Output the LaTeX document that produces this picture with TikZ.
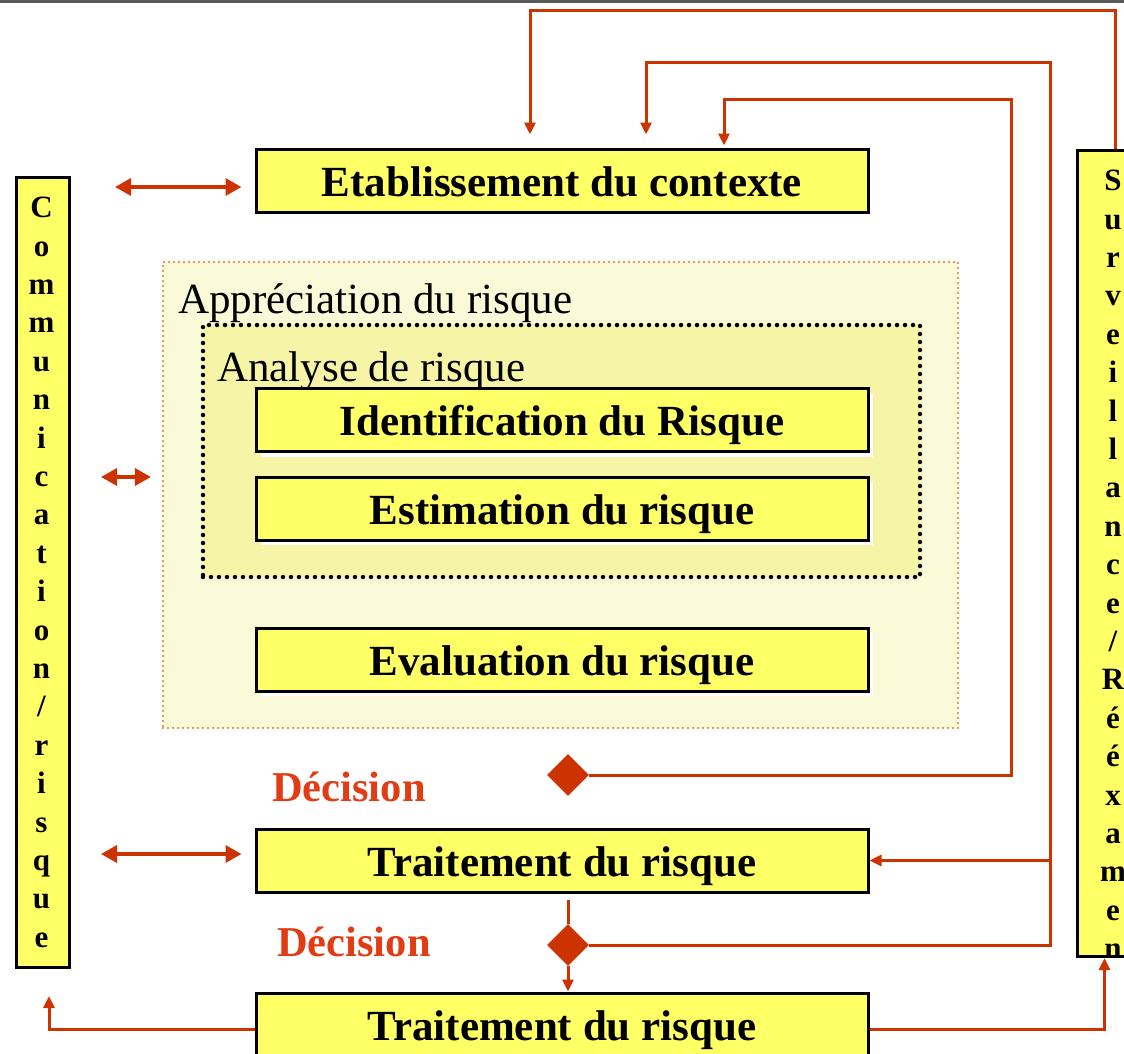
\documentclass[tikz,border=0pt]{standalone}
\usepackage{fontspec}
\setmainfont{Liberation Serif}
\usetikzlibrary{arrows.meta,shapes.geometric,shadows}
\definecolor{boxyellow}{HTML}{FFFF66}
\definecolor{apprfill}{HTML}{FAFAD8}
\definecolor{anafill}{HTML}{F6F4A6}
\definecolor{linkred}{HTML}{CC3300}
\definecolor{decred}{HTML}{E23C14}
\definecolor{dotorange}{HTML}{E07A1E}
\begin{document}
\begin{tikzpicture}[x=1pt,y=-1pt,
    stepbox/.style={draw,line width=3pt,fill=boxyellow,minimum width=612pt,minimum height=63pt,inner sep=0pt,
        text height=31pt,text depth=0pt,font=\fontsize{43}{47}\selectfont\bfseries,
        drop shadow={fill=white,opacity=1,shadow xshift=5pt,shadow yshift=-5pt}},
    sidebox/.style={draw,line width=3pt,fill=boxyellow,inner sep=0pt,anchor=north west},
    letters/.style={align=center,inner sep=0pt,anchor=north,font=\fontsize{31}{38.4}\selectfont\bfseries},
    areatext/.style={anchor=base west,inner sep=0pt,font=\fontsize{43}{47}\selectfont},
    declabel/.style={anchor=base west,inner sep=0pt,text=decred,font=\fontsize{42.5}{46}\selectfont\bfseries},
    choice/.style={diamond,fill=linkred,minimum size=42pt,inner sep=0pt},
    link/.style={draw=linkred,line width=3pt,-{Triangle[length=12pt,width=11pt]}},
    biglink/.style={draw=linkred,line width=3.5pt,{Triangle[length=16pt,width=17pt]}-{Triangle[length=16pt,width=17pt]}}]
    \useasboundingbox (0,0) rectangle (1124,1053);
    \clip (0,0) rectangle (1124,1053);
    \path[draw=gray!70!black,line width=3pt] (0,1) -- (1124,1);

    \node[draw=dotorange,fill=apprfill,line width=2.2pt,dash pattern=on 0pt off 5pt,line cap=round,
        minimum width=795pt,minimum height=466pt] (appr) at (560.5,495) {};
    \node[draw=black,fill=anafill,line width=4.5pt,dash pattern=on 0pt off 8pt,line cap=round,
        minimum width=717pt,minimum height=252pt] (ana) at (561.5,451) {};
    \node[areatext] (apprtext) at (178,313) {Appréciation du risque};
    \node[areatext] (anatext) at (217,381) {Analyse de risque};

    \node[stepbox] (etab) at (562,180.5) {Etablissement du contexte};
    \node[stepbox] (ident) at (562,420) {Identification du Risque};
    \node[stepbox] (estim) at (562,508.5) {Estimation du risque};
    \node[stepbox] (evalu) at (562,659.5) {Evaluation du risque};
    \node[stepbox] (treat1) at (562,860.5) {Traitement du risque};
    \node[stepbox] (treat2) at (562,1024.5) {Traitement du risque};

    \node[sidebox,minimum width=53pt,minimum height=790pt] (comm) at (15,176) {};
    \node[letters] (commtext) at (41.5,197) {C\\o\\m\\m\\u\\n\\i\\c\\a\\t\\i\\o\\n\\/\\r\\i\\s\\q\\u\\e};
    \node[sidebox,minimum width=74pt,minimum height=806pt] (surv) at (1076,149) {};
    \node[letters] (survtext) at (1113,170) {S\\u\\r\\v\\e\\i\\l\\l\\a\\n\\c\\e\\/\\R\\é\\é\\x\\a\\m\\e\\n};

    \node[declabel] (dec1) at (272,801) {Décision};
    \node[declabel] (dec2) at (277,956) {Décision};
    \node[choice] (d1) at (568,775) {};
    \node[choice] (d2) at (568,945) {};

    \coordinate (c1) at (115,187);
    \coordinate (c2) at (101,477);
    \coordinate (c3) at (101,854);
    \path[biglink,shorten >=13pt] (c1) -- (c1 -| etab.west);
    \path[biglink,shorten >=11pt] (c2) -- (c2 -| appr.west);
    \path[biglink,shorten >=13pt] (c3) -- (c3 -| treat1.west);

    \coordinate (top1) at (1115,10);
    \coordinate (top2) at (1050,62);
    \coordinate (top3) at (1011,99);
    \path[link,shorten >=13pt] (top1 |- surv.north) -- (top1) -| ([xshift=-32pt]etab.north);
    \path[link,shorten >=13pt] (d2.east) -| (top2) -| ([xshift=84pt]etab.north);
    \path[link,shorten >=2pt] (d1.east) -| (top3) -| ([xshift=162pt]etab.north);
    \path[link] (top2 |- treat1.east) -- (treat1.east);

    \path[draw=linkred,line width=3pt] ([xshift=6pt,yshift=-6pt]treat1.south) -- (d2.north);
    \path[link] (d2.south) -- (d2.south |- treat2.north);
    \path[link,shorten >=27pt] ([yshift=-5pt]treat2.west) -| ([xshift=6pt]comm.south);
    \path[link] ([yshift=-5pt]treat2.east) -| ([xshift=-10pt]surv.south);
\end{tikzpicture}
\end{document}
